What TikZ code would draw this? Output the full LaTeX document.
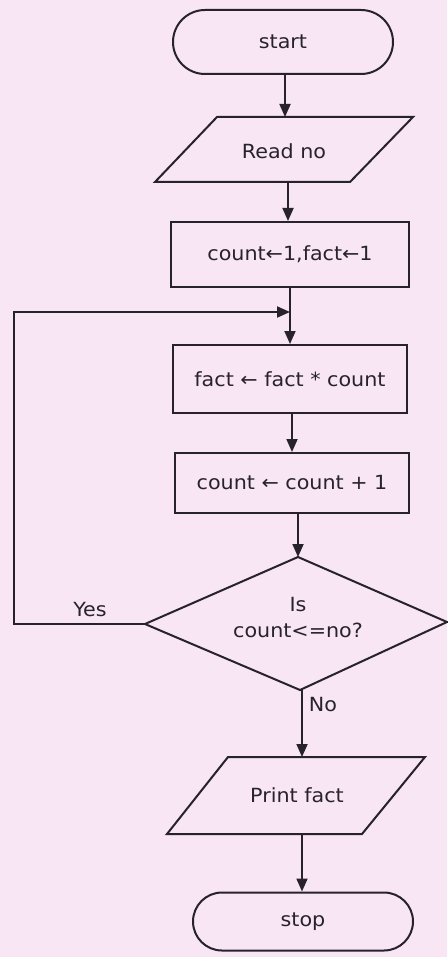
\documentclass[tikz,border=0pt]{standalone}
\usepackage{fontspec}
\setmainfont{DejaVu Sans}[FakeStretch=1.06]
\usetikzlibrary{shapes.misc,arrows.meta}
\definecolor{bgpink}{RGB}{248,230,244}
\definecolor{ink}{RGB}{40,34,44}
\tikzset{
  lbl/.style={font=\fontsize{19.5}{26}\selectfont, text=ink, inner sep=0pt, align=center},
  term/.style={rounded rectangle, draw=ink, line width=2pt, minimum width=220pt, inner sep=0pt, lbl},
  procbox/.style={draw=ink, line width=2pt, inner sep=0pt, lbl},
  shp/.style={draw=ink, line width=2pt, line join=miter},
  conn/.style={draw=ink, line width=1.8pt, -{Triangle[length=13pt,width=11pt]}},
  plain/.style={draw=ink, line width=1.8pt}
}
\begin{document}
\begin{tikzpicture}[x=1pt,y=-1pt]
\fill[bgpink] (0,0) rectangle (447,957);
\useasboundingbox (0,0) rectangle (447,957);

% start
\node[term, minimum height=64pt] (start) at (283,42) {start};

% read no
\coordinate (readT) at (285,117);
\coordinate (readB) at (288,182);
\draw[shp] (217,117) -- (413,117) -- (350,182) -- (155,182) -- cycle;
\node[lbl] (read) at (284,151) {Read no};

% init
\node[procbox, minimum width=238pt, minimum height=65pt] (init) at (290,254.5) {count←1,fact←1};

% fact
\node[procbox, minimum width=234pt, minimum height=68pt] (fact) at (290,379) {fact ← fact * count};

% count
\node[procbox, minimum width=234pt, minimum height=60pt] (cnt) at (292,483) {count ← count + 1};

% decision
\coordinate (dT) at (298,557);
\coordinate (dR) at (447,622);
\coordinate (dB) at (300,690);
\coordinate (dL) at (145,624);
\draw[shp] (dT) -- (dR) -- (dB) -- (dL) -- cycle;
\node[lbl] (dec) at (298,618) {Is\\count<=no?};

% print
\coordinate (prT) at (302,757);
\coordinate (prB) at (302,834);
\draw[shp] (228,757) -- (425,757) -- (362,834) -- (167,834) -- cycle;
\node[lbl] (print) at (297,795) {Print fact};

% stop
\node[term, minimum height=58pt] (stop) at (303,921.5) {stop};

% labels
\node[lbl] (yes) at (90,610) {Yes};
\node[lbl] (no) at (323,705) {No};

% connectors
\coordinate (join) at (290,312);
\coordinate (loopB) at (14,624);
\coordinate (loopT) at (14,312);
\draw[conn] (start.south -| readT) -- (readT);
\draw[conn] (readB) -- (init.north -| readB);
\draw[plain] (init.south) -- (join);
\draw[conn] (join) -- (fact.north);
\draw[conn] (fact.south -| cnt.north) -- (cnt.north);
\draw[conn] (cnt.south -| dT) -- (dT);
\draw[conn] (dL) -- (loopB) -- (loopT) -- (join);
\draw[conn] (dB -| prT) -- (prT);
\draw[conn] (prB) -- (stop.north -| prB);
\end{tikzpicture}
\end{document}
